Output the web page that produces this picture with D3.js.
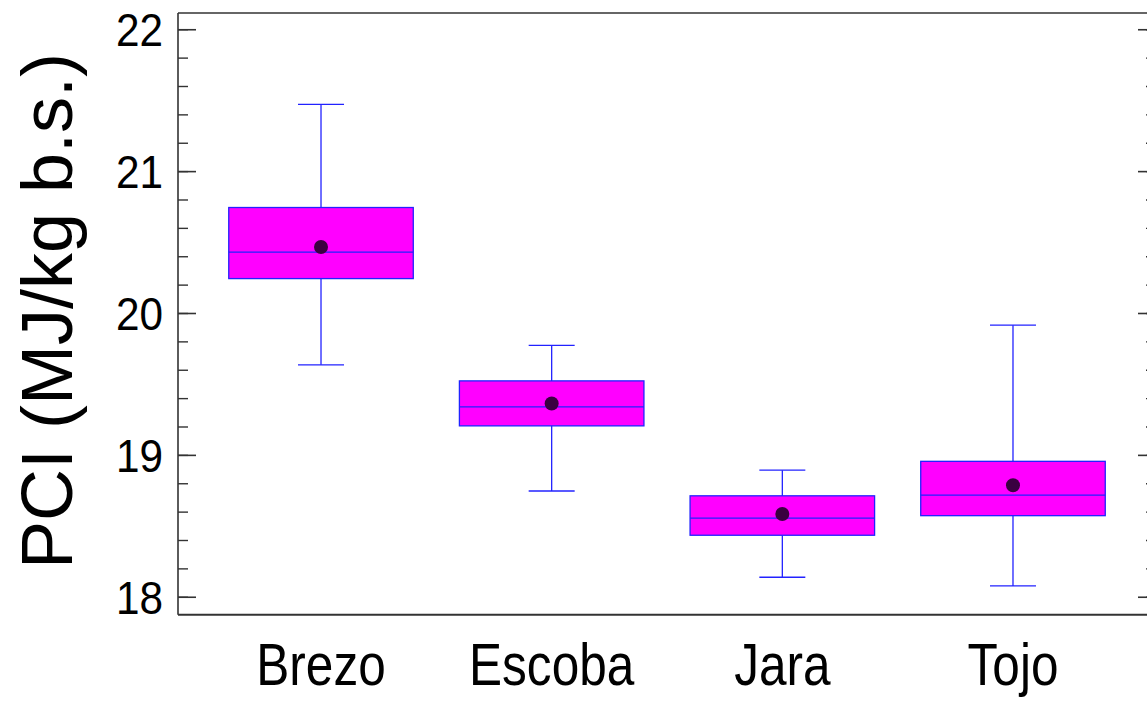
<!DOCTYPE html>
<html>
<head>
<meta charset="utf-8">
<script src="https://cdn.jsdelivr.net/npm/d3@7"></script>
<style>
  body { margin: 0; background: #fff; }
  svg text { font-family: "Liberation Sans", Arial, sans-serif; fill: #000; }
</style>
</head>
<body>
<svg id="chart" width="1147" height="701"></svg>
<script>
// data
var species = ["Brezo", "Escoba", "Jara", "Tojo"];
var whiskerLow  = [19.638, 18.749, 18.141, 18.080];
var quart1      = [20.246, 19.208, 18.437, 18.575];
var median      = [20.432, 19.342, 18.558, 18.720];
var quart3      = [20.747, 19.525, 18.715, 18.958];
var whiskerHigh = [21.474, 19.775, 18.896, 19.918];
var means       = [20.469, 19.366, 18.587, 18.789];
var yTicks = [18, 19, 20, 21, 22];
var yTitle = "PCI (MJ/kg b.s.)";

var svg = d3.select("#chart");
var pLeft = 178, pRight = 1156, pTop = 13, pBottom = 614.7;

var x = d3.scalePoint()
    .domain(species)
    .range([pLeft, pRight])
    .padding(0.62);
var boxW = x.step() * 0.8;
var capW = 46;

var y = d3.scaleLinear()
    .domain([17.877, 22.118])
    .range([pBottom, pTop]);

var minorTicks = d3.range(17.8, 22.2001, 0.2).filter(function(v){
  return v >= y.domain()[0] && v <= y.domain()[1];
});

//-----FRAME + TICKS-------//
var frame = svg.append("g").attr("class", "frame");
frame.append("line").attr("x1", pLeft).attr("x2", pLeft).attr("y1", pTop).attr("y2", pBottom)
  .attr("stroke", "#333").attr("stroke-width", 1.6);
frame.append("line").attr("x1", pLeft).attr("x2", pRight).attr("y1", pTop).attr("y2", pTop)
  .attr("stroke", "#333").attr("stroke-width", 1.6);
frame.append("line").attr("x1", pLeft).attr("x2", pRight).attr("y1", pBottom).attr("y2", pBottom)
  .attr("stroke", "#333").attr("stroke-width", 2);
frame.append("line").attr("x1", pRight).attr("x2", pRight).attr("y1", pTop).attr("y2", pBottom)
  .attr("stroke", "#333").attr("stroke-width", 1.6);

// minor ticks both sides
minorTicks.forEach(function(v){
  frame.append("line").attr("x1", pLeft).attr("x2", pLeft + 10)
    .attr("y1", y(v)).attr("y2", y(v)).attr("stroke", "#333").attr("stroke-width", 1.4);
  frame.append("line").attr("x1", pRight).attr("x2", pRight - 10)
    .attr("y1", y(v)).attr("y2", y(v)).attr("stroke", "#333").attr("stroke-width", 1.4);
});
// major ticks + labels
yTicks.forEach(function(v){
  frame.append("line").attr("x1", pLeft).attr("x2", pLeft + 18)
    .attr("y1", y(v)).attr("y2", y(v)).attr("stroke", "#333").attr("stroke-width", 1.6);
  frame.append("line").attr("x1", pRight).attr("x2", pRight - 18)
    .attr("y1", y(v)).attr("y2", y(v)).attr("stroke", "#333").attr("stroke-width", 1.6);
  frame.append("text")
    .attr("transform", "translate(" + (pLeft - 15) + "," + y(v) + ") scale(0.92,1)")
    .attr("dy", "0.36em")
    .style("text-anchor", "end")
    .style("font-size", "46px")
    .text(v);
});

// category labels (narrow face)
species.forEach(function(s){
  svg.append("text")
    .attr("transform", "translate(" + x(s) + ",685) scale(0.84,1)")
    .style("text-anchor", "middle")
    .style("font-size", "59px")
    .text(s);
});

// y title
svg.append("text")
  .attr("transform", "translate(72,311) rotate(-90)")
  .style("text-anchor", "middle")
  .style("font-size", "72px")
  .text(yTitle);

//-----BOXES-------//
var boxes = svg.append("g").attr("class", "boxes")
  .selectAll("g").data(species).enter().append("g");

boxes.append("line") // whisker
  .attr("x1", function(d){ return x(d); })
  .attr("x2", function(d){ return x(d); })
  .attr("y1", function(d, i){ return y(whiskerLow[i]); })
  .attr("y2", function(d, i){ return y(whiskerHigh[i]); })
  .attr("stroke", "#2222ff").attr("stroke-width", 1.3);

[whiskerLow, whiskerHigh].forEach(function(arr){
  boxes.append("line")
    .attr("x1", function(d){ return x(d) - capW/2; })
    .attr("x2", function(d){ return x(d) + capW/2; })
    .attr("y1", function(d, i){ return y(arr[i]); })
    .attr("y2", function(d, i){ return y(arr[i]); })
    .attr("stroke", "#2222ff").attr("stroke-width", 1.3);
});

boxes.append("rect")
  .attr("x", function(d){ return x(d) - boxW/2; })
  .attr("width", boxW)
  .attr("y", function(d, i){ return y(quart3[i]); })
  .attr("height", function(d, i){ return y(quart1[i]) - y(quart3[i]); })
  .attr("fill", "#ff00ff")
  .attr("stroke", "#2222ff").attr("stroke-width", 1.3);

boxes.append("line") // median
  .attr("x1", function(d){ return x(d) - boxW/2; })
  .attr("x2", function(d){ return x(d) + boxW/2; })
  .attr("y1", function(d, i){ return y(median[i]); })
  .attr("y2", function(d, i){ return y(median[i]); })
  .attr("stroke", "#2222ff").attr("stroke-width", 1.3);

boxes.append("circle") // mean
  .attr("cx", function(d){ return x(d); })
  .attr("cy", function(d, i){ return y(means[i]); })
  .attr("r", 7)
  .attr("fill", "#3a0040");
</script>
</body>
</html>
